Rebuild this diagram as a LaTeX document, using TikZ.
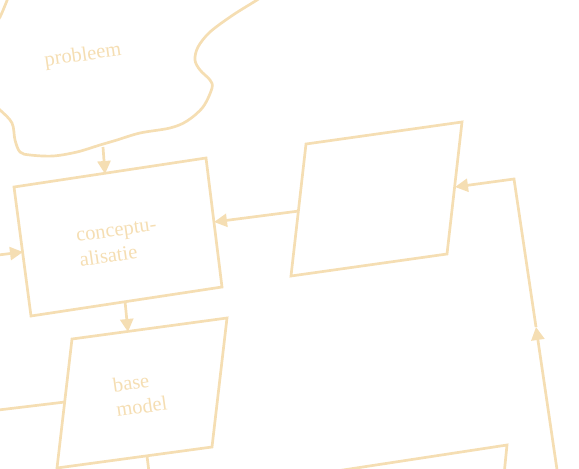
\documentclass[tikz,border=0pt]{standalone}
\usepackage{fontspec}
\setmainfont{Liberation Serif}
\usetikzlibrary{arrows.meta}
\definecolor{wheatc}{RGB}{245,222,179}
\begin{document}
\begin{tikzpicture}[x=1pt,y=-1pt,
  ln/.style={draw=wheatc, line width=2.7pt, line join=miter},
  arr/.style={ln, -{Triangle[length=13pt,width=13pt]}},
  lbl/.style={text=wheatc, font=\fontsize{20.5}{25}\selectfont, align=left, rotate=8, inner sep=0pt}]
\useasboundingbox (0,0) rectangle (579,469);
\clip (0,0) rectangle (579,469);

% corners of the shapes
\coordinate (A1) at (14,187);  \coordinate (A2) at (206,158);
\coordinate (A3) at (222,287); \coordinate (A4) at (31,316);
\coordinate (B1) at (306,144); \coordinate (B2) at (462,122);
\coordinate (B3) at (447,254); \coordinate (B4) at (291,276);
\coordinate (C1) at (72,339);  \coordinate (C2) at (227,318);
\coordinate (C3) at (212,447); \coordinate (C4) at (57,468);
\coordinate (D2) at (507,445); \coordinate (D1) at (330,472); \coordinate (D3) at (504,475);

% cloud
\draw[ln] plot[smooth, tension=0.55] coordinates {(-15,98) (0,110) (12,123) (15,140) (20,152) (30,155) (53,156) (77,152) (100,145) (117,140) (140,133) (170,128) (187,121) (203,107) (212,88) (210,80) (200,70) (195,60) (198,47) (210,32) (233,15) (257,0) (272,-10)};
\draw[ln] plot[smooth] coordinates {(-8,28) (0,17) (8,-2)};
\node[lbl] (prob) at (83,56) {probleem};

% boxes
\draw[ln] (A1) -- (A2) -- (A3) -- (A4) -- cycle;
\node[lbl] (conc) at (118,243) {conceptu-\\alisatie};
\draw[ln] (B1) -- (B2) -- (B3) -- (B4) -- cycle;
\draw[ln] (C1) -- (C2) -- (C3) -- (C4) -- cycle;
\node[lbl] (base) at (140,394) {base\\model};
\draw[ln] (D1) -- (D2) -- (D3);

% connector end points
\coordinate (cl) at (103,147);   \coordinate (ctop) at (105,174);
\coordinate (lin) at (-10,256);  \coordinate (cleft) at (23,252);
\coordinate (bleft) at (299,211); \coordinate (cright) at (214,222);
\coordinate (cbot) at (125,301); \coordinate (btop) at (128,332);
\coordinate (lin2) at (-10,411); \coordinate (bl) at (65,402);
\coordinate (bb) at (147,456);   \coordinate (bbout) at (150,480);
\coordinate (rbot) at (560,490); \coordinate (rmid) at (536,327);
\coordinate (rc) at (514,179);   \coordinate (bright) at (455,187);

\draw[arr] (cl) -- (ctop);
\draw[arr] (lin) -- (cleft);
\draw[arr] (bleft) -- (cright);
\draw[arr] (cbot) -- (btop);
\draw[ln] (lin2) -- (bl);
\draw[ln] (bb) -- (bbout);
\draw[arr] (rbot) -- (rmid);
\draw[arr] (rmid) -- (rc) -- (bright);
\end{tikzpicture}
\end{document}
